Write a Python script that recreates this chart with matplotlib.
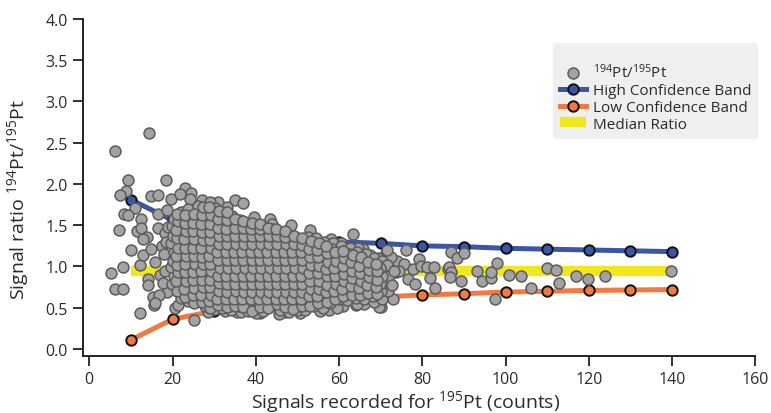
import numpy as np
import matplotlib.pyplot as plt

plt.rcParams['font.family'] = ['Open Sans', 'DejaVu Sans']
plt.rcParams['mathtext.default'] = 'regular'

# confidence bands and median ratio vs. counts
band_x = [10, 20, 30, 40, 50, 60, 70, 80, 90, 100, 110, 120, 130, 140]
high_band = [1.81, 1.56, 1.45, 1.38, 1.34, 1.30, 1.28, 1.25, 1.24, 1.22, 1.21, 1.20, 1.19, 1.18]
low_band = [0.11, 0.36, 0.46, 0.53, 0.58, 0.61, 0.63, 0.655, 0.67, 0.69, 0.70, 0.71, 0.715, 0.72]
median_x = [10, 140]
median_ratio = [0.95, 0.95]

# isolated measurements (outside the dense cloud)
sparse_x = [14.4, 6.2, 9.3, 18.5, 8.8, 7.3, 14.8, 16.4, 19.6, 23.0, 24.5, 21.8,
            10.9, 8.4, 9.3, 16.5, 18.6, 12.4, 7.2, 11.4, 12.5, 13.8, 16.6, 10.0,
            8.0, 5.3, 12.1, 12.9, 15.8, 6.1, 8.0, 14.1, 14.1, 15.4, 15.6, 18.6,
            12.2, 20.6, 21.4, 25.2, 16.8, 15.8, 14.8, 13.0, 17.5, 18.2, 17.0,
            35.0, 37.0, 43.4, 27.0, 31.0, 24.2, 33.0, 39.5, 48.5, 32.5, 58.0,
            28.5, 35.5, 40.5, 47.0, 57.5, 61.0, 66.0, 70.0, 29.0, 44.0, 53.0,
            63.4, 65.7, 71.2, 69.4, 73.8, 76.0, 75.6, 73.7, 79.2, 77.8, 79.8,
            81.2, 82.9, 81.8, 76.6, 78.2, 83.0, 86.2, 70.6, 69.4, 73.0, 69.7,
            71.4, 69.0, 70.8, 65.8, 64.1, 72.4, 74.5, 67.5, 64.5, 71.5, 60.5,
            87.0, 88.4, 90.0, 86.5, 86.9, 86.6, 89.2, 93.2, 94.4, 96.5, 96.6,
            98.0, 97.4, 100.9, 103.8, 106.2, 110.0, 112.0, 112.8, 116.8, 119.7,
            123.8, 139.8]
sparse_y = [2.62, 2.40, 2.05, 2.05, 1.92, 1.87, 1.85, 1.87, 1.82, 1.95, 1.89, 1.88,
            1.71, 1.64, 1.62, 1.64, 1.69, 1.57, 1.44, 1.43, 1.47, 1.36, 1.47, 1.20,
            0.99, 0.92, 1.02, 1.14, 1.05, 0.73, 0.73, 0.85, 0.78, 0.63, 0.53, 0.69,
            0.44, 0.50, 0.53, 0.355, 0.65, 0.56, 1.21, 1.33, 1.25, 1.40, 0.90,
            1.81, 1.77, 1.58, 1.80, 1.78, 1.82, 1.72, 1.60, 1.50, 1.62, 1.33,
            0.45, 0.45, 0.45, 0.45, 0.47, 0.52, 0.55, 0.51, 1.78, 1.52, 1.44,
            1.39, 1.21, 1.16, 1.10, 1.07, 1.20, 1.03, 0.93, 1.09, 0.97, 1.00,
            0.99, 0.99, 0.86, 0.85, 0.79, 0.74, 0.97, 1.01, 0.67, 0.61, 0.51,
            0.83, 0.85, 0.91, 0.93, 0.53, 1.12, 0.95, 1.14, 1.22, 1.20, 1.28,
            1.18, 1.10, 1.16, 0.99, 0.93, 0.87, 0.82, 0.94, 0.82, 0.86, 0.93,
            1.04, 0.61, 0.90, 0.89, 0.74, 0.98, 0.96, 0.80, 0.88, 0.85,
            0.88, 0.94]

# ragged edge of the dense cloud
edge_x = [52.5, 54.5, 56.4, 58.6, 60.4, 62.6, 64.4, 66.5, 68.4, 70.3,
          64.2, 68.3, 70.4, 59.5, 55.5, 50.5, 45.5, 41.0, 36.5, 32.5,
          71.8, 72.0, 71.5, 72.8, 73.2, 18.2, 18.0, 18.5, 17.8, 18.8]
edge_y = [1.36, 1.34, 1.30, 1.29, 1.25, 1.22, 1.18, 1.15, 1.10, 1.07,
          0.55, 0.57, 0.61, 0.50, 0.46, 0.44, 0.43, 0.44, 0.45, 0.46,
          0.70, 0.88, 1.02, 0.78, 0.95, 0.95, 1.15, 1.30, 0.80, 1.48]

# dense cloud of measurements, read column by column (even columns)
core_x = [19.8, 20.3, 19.6, 20.1, 20.4, 19.7, 20.2, 19.9, 20.3,
          22.1, 21.7, 22.3, 21.9, 22.2, 21.6, 22.4, 22.0, 21.8, 22.3, 22.1,
          23.8, 24.2, 24.0, 23.7, 24.3, 24.1, 23.9, 24.4, 23.8, 24.2, 24.0, 23.7,
          26.1, 25.8, 26.3, 26.0, 25.7, 26.2, 25.9, 26.4, 26.0, 25.8, 26.3, 26.1,
          27.9, 28.2, 27.7, 28.3, 28.0, 27.8, 28.4, 28.1, 27.9, 28.2, 27.7, 28.0, 28.3,
          30.2, 29.8, 30.1, 29.7, 30.3, 30.0, 29.9, 30.4, 29.8, 30.2, 30.0, 29.7, 30.1, 30.2,
          31.8, 32.2, 31.9, 32.3, 32.0, 31.7, 32.1, 31.9, 32.3, 32.0, 31.8, 32.2, 31.9,
          34.1, 33.8, 34.2, 34.0, 33.7, 34.3, 33.9, 34.1, 33.8, 34.2, 34.0, 33.9, 34.2,
          35.9, 36.2, 35.8, 36.1, 36.3, 35.7, 36.0, 36.2, 35.9, 36.1, 35.8, 36.3,
          38.1, 37.8, 38.3, 38.0, 37.7, 38.2, 37.9, 38.1, 37.8, 38.3, 38.0, 37.9,
          40.0, 39.7, 40.2, 39.9, 40.3, 40.1, 39.8, 40.2, 39.9, 40.1, 39.7,
          41.8, 42.2, 41.9, 42.1, 41.7, 42.3, 42.0, 41.8, 42.2, 42.0, 41.9,
          44.1, 43.8, 44.2, 43.9, 44.3, 44.0, 43.7, 44.1, 43.9, 44.2, 44.0,
          45.9, 46.2, 45.8, 46.1, 45.7, 46.3, 46.0, 45.9, 46.2, 46.0, 45.8,
          48.0, 47.8, 48.3, 47.9, 48.2, 48.1, 47.7, 48.0, 48.2, 47.9,
          50.2, 49.8, 50.1, 49.9, 50.3, 50.0, 49.7, 50.2, 49.9, 50.1,
          51.8, 52.1, 51.9, 52.3, 52.0, 51.7, 52.2, 51.9, 52.1,
          54.0, 53.8, 54.2, 53.9, 54.1, 53.7, 54.3, 54.0, 53.8,
          56.1, 55.8, 56.2, 56.0, 55.9, 56.3, 55.7, 56.1,
          57.9, 58.2, 57.8, 58.1, 58.3, 57.9, 58.0, 58.2,
          60.1, 59.8, 60.2, 59.9, 60.1, 59.7, 60.3,
          61.9, 62.2, 61.8, 62.1, 62.0, 61.8, 62.3,
          64.0, 63.8, 64.2, 63.9, 64.1, 63.7,
          65.9, 66.2, 65.8, 66.1, 66.0, 66.3,
          68.1, 67.8, 68.2, 67.9, 68.0,
          70.0, 69.8, 70.2, 69.9]
core_y = [0.79, 0.88, 0.99, 1.07, 1.18, 1.29, 1.37, 1.49, 1.58,
          0.62, 0.73, 0.83, 0.94, 1.03, 1.12, 1.24, 1.33, 1.43, 1.54, 1.66,
          0.58, 0.67, 0.78, 0.88, 0.97, 1.08, 1.18, 1.27, 1.38, 1.48, 1.58, 1.70,
          0.62, 0.72, 0.83, 0.92, 1.03, 1.13, 1.22, 1.33, 1.42, 1.53, 1.62, 1.73,
          0.52, 0.61, 0.70, 0.79, 0.89, 0.98, 1.08, 1.17, 1.27, 1.37, 1.47, 1.57, 1.67,
          0.49, 0.56, 0.65, 0.75, 0.84, 0.93, 1.03, 1.12, 1.22, 1.32, 1.42, 1.52, 1.62, 1.71,
          0.50, 0.60, 0.70, 0.79, 0.89, 0.98, 1.08, 1.17, 1.27, 1.37, 1.46, 1.56, 1.66,
          0.47, 0.55, 0.65, 0.74, 0.84, 0.93, 1.03, 1.12, 1.22, 1.32, 1.42, 1.51, 1.61,
          0.52, 0.59, 0.69, 0.79, 0.88, 0.98, 1.08, 1.17, 1.27, 1.37, 1.46, 1.56,
          0.46, 0.55, 0.64, 0.74, 0.84, 0.93, 1.03, 1.12, 1.22, 1.32, 1.42, 1.51,
          0.44, 0.59, 0.69, 0.79, 0.88, 0.98, 1.07, 1.17, 1.27, 1.37, 1.47,
          0.46, 0.55, 0.64, 0.74, 0.84, 0.93, 1.03, 1.12, 1.22, 1.32, 1.42,
          0.53, 0.59, 0.69, 0.79, 0.88, 0.98, 1.08, 1.17, 1.27, 1.36, 1.45,
          0.47, 0.55, 0.64, 0.74, 0.84, 0.93, 1.03, 1.12, 1.22, 1.32, 1.41,
          0.45, 0.59, 0.69, 0.79, 0.88, 0.98, 1.08, 1.17, 1.27, 1.36,
          0.47, 0.55, 0.64, 0.74, 0.84, 0.93, 1.03, 1.12, 1.22, 1.31,
          0.47, 0.59, 0.69, 0.79, 0.88, 0.98, 1.08, 1.17, 1.27,
          0.52, 0.60, 0.68, 0.77, 0.87, 0.96, 1.06, 1.15, 1.25,
          0.50, 0.64, 0.73, 0.82, 0.92, 1.01, 1.11, 1.21,
          0.56, 0.65, 0.74, 0.84, 0.93, 1.02, 1.12, 1.21,
          0.60, 0.69, 0.78, 0.88, 0.97, 1.07, 1.16,
          0.59, 0.67, 0.76, 0.86, 0.95, 1.05, 1.15,
          0.62, 0.72, 0.81, 0.91, 1.00, 1.10,
          0.60, 0.68, 0.77, 0.87, 0.96, 1.06,
          0.64, 0.73, 0.82, 0.92, 1.01,
          0.70, 0.79, 0.89, 0.98]

# dense cloud, odd columns
core2_x = [21.1, 20.8, 21.3, 21.0, 20.9, 21.2, 21.1, 20.8, 21.3, 21.0,
           23.0, 22.8, 23.2, 23.1, 22.9, 23.3, 23.0, 22.8, 23.2, 23.1, 22.9,
           25.1, 24.8, 25.2, 25.0, 24.9, 25.3, 25.1, 24.8, 25.2, 25.0, 24.9, 25.1,
           27.0, 26.8, 27.2, 27.1, 26.9, 27.3, 27.0, 26.8, 27.2, 27.1, 26.9, 27.0, 27.2,
           29.0, 28.8, 29.2, 29.1, 28.9, 29.3, 29.0, 28.8, 29.2, 29.1, 28.9, 29.0, 29.2, 28.8,
           31.0, 30.8, 31.2, 31.1, 30.9, 31.3, 31.0, 30.8, 31.2, 31.1, 30.9, 31.0, 31.2,
           33.0, 32.8, 33.2, 33.1, 32.9, 33.3, 33.0, 32.8, 33.2, 33.1, 32.9, 33.0, 33.2,
           35.0, 34.8, 35.2, 35.1, 34.9, 35.3, 35.0, 34.8, 35.2, 35.1, 34.9, 35.0,
           37.0, 36.8, 37.2, 37.1, 36.9, 37.3, 37.0, 36.8, 37.2, 37.1, 36.9, 37.0,
           39.0, 38.8, 39.2, 39.1, 38.9, 39.3, 39.0, 38.8, 39.2, 39.1, 38.9, 39.0,
           41.0, 40.8, 41.2, 41.1, 40.9, 41.3, 41.0, 40.8, 41.2, 41.1, 40.9, 41.0,
           43.0, 42.8, 43.2, 43.1, 42.9, 43.3, 43.0, 42.8, 43.2, 43.1, 42.9,
           45.0, 44.8, 45.2, 45.1, 44.9, 45.3, 45.0, 44.8, 45.2, 45.1, 44.9,
           47.0, 46.8, 47.2, 47.1, 46.9, 47.3, 47.0, 46.8, 47.2, 47.1, 46.9,
           49.0, 48.8, 49.2, 49.1, 48.9, 49.3, 49.0, 48.8, 49.2, 49.1,
           51.0, 50.8, 51.2, 51.1, 50.9, 51.3, 51.0, 50.8, 51.2, 51.1,
           53.0, 52.8, 53.2, 53.1, 52.9, 53.3, 53.0, 52.8, 53.2,
           55.0, 54.8, 55.2, 55.1, 54.9, 55.3, 55.0, 54.8, 55.2,
           57.0, 56.8, 57.2, 57.1, 56.9, 57.3, 57.0, 56.8,
           59.0, 58.8, 59.2, 59.1, 58.9, 59.3, 59.0,
           61.0, 60.8, 61.2, 61.1, 60.9, 61.3, 61.0,
           63.0, 62.8, 63.2, 63.1, 62.9, 63.3,
           65.0, 64.8, 65.2, 65.1, 64.9, 65.3,
           67.0, 66.8, 67.2, 67.1, 66.9,
           69.0, 68.8, 69.2, 69.1, 68.9]
core2_y = [0.70, 0.82, 0.93, 1.02, 1.13, 1.23, 1.34, 1.44, 1.55, 1.64,
           0.63, 0.73, 0.83, 0.93, 1.03, 1.13, 1.23, 1.33, 1.43, 1.53, 1.63,
           0.56, 0.65, 0.74, 0.84, 0.93, 1.03, 1.13, 1.22, 1.33, 1.43, 1.53, 1.64,
           0.57, 0.66, 0.75, 0.84, 0.94, 1.03, 1.12, 1.22, 1.32, 1.42, 1.52, 1.62, 1.72,
           0.50, 0.58, 0.66, 0.75, 0.84, 0.94, 1.03, 1.13, 1.22, 1.32, 1.42, 1.52, 1.62, 1.72,
           0.53, 0.61, 0.70, 0.80, 0.89, 0.98, 1.08, 1.17, 1.27, 1.37, 1.47, 1.57, 1.67,
           0.51, 0.60, 0.69, 0.79, 0.89, 0.98, 1.08, 1.17, 1.27, 1.37, 1.46, 1.56, 1.66,
           0.52, 0.60, 0.70, 0.79, 0.89, 0.98, 1.08, 1.17, 1.27, 1.37, 1.47, 1.57,
           0.51, 0.60, 0.69, 0.79, 0.88, 0.98, 1.08, 1.17, 1.27, 1.37, 1.47, 1.55,
           0.46, 0.60, 0.69, 0.79, 0.88, 0.98, 1.08, 1.17, 1.27, 1.37, 1.46, 1.53,
           0.51, 0.60, 0.69, 0.79, 0.88, 0.98, 1.08, 1.17, 1.27, 1.37, 1.45, 1.51,
           0.50, 0.60, 0.69, 0.79, 0.88, 0.98, 1.08, 1.17, 1.27, 1.37, 1.47,
           0.55, 0.60, 0.69, 0.79, 0.88, 0.98, 1.08, 1.17, 1.27, 1.37, 1.45,
           0.51, 0.60, 0.69, 0.79, 0.88, 0.98, 1.08, 1.17, 1.27, 1.36, 1.43,
           0.48, 0.60, 0.69, 0.79, 0.88, 0.98, 1.08, 1.17, 1.27, 1.37,
           0.52, 0.60, 0.69, 0.79, 0.88, 0.98, 1.08, 1.17, 1.26, 1.35,
           0.52, 0.64, 0.73, 0.83, 0.92, 1.02, 1.11, 1.21, 1.31,
           0.56, 0.64, 0.73, 0.82, 0.92, 1.01, 1.11, 1.20, 1.29,
           0.57, 0.69, 0.78, 0.88, 0.97, 1.06, 1.16, 1.25,
           0.61, 0.70, 0.79, 0.88, 0.98, 1.07, 1.17,
           0.64, 0.73, 0.82, 0.91, 1.01, 1.10, 1.19,
           0.66, 0.76, 0.86, 0.95, 1.05, 1.14,
           0.66, 0.74, 0.83, 0.92, 1.01, 1.11,
           0.68, 0.78, 0.87, 0.96, 1.06,
           0.67, 0.75, 0.84, 0.94, 1.03]

ratio_x = np.array(sparse_x + edge_x + core_x + core2_x)
ratio_y = np.array(sparse_y + edge_y + core_y + core2_y)

text_col = '#2b2b2b'

fig = plt.figure(figsize=(7.71, 4.14), dpi=100)
ax = fig.add_axes([0.1077, 0.1377, 0.872, 0.814])

ax.plot(median_x, median_ratio, color='#f2e61e', lw=7.5, solid_capstyle='butt',
        label='Median Ratio', zorder=1)
ax.plot(band_x, high_band, color='#3a56a5', lw=3.6, marker='o', ms=7.5,
        mfc='#3a56a5', mec='#111111', mew=1.4, label='High Confidence Band', zorder=2)
ax.plot(band_x, low_band, color='#f07a42', lw=3.6, marker='o', ms=7.5,
        mfc='#f07a42', mec='#111111', mew=1.4, label='Low Confidence Band', zorder=2)
ax.scatter(ratio_x, ratio_y, s=62, color='#a3a3a3', edgecolors='#5c5c5c',
           linewidths=1.1, label=r'$^{194}$Pt/$^{195}$Pt', zorder=3)

ax.set_xlim(-1.5, 160)
ax.set_ylim(-0.085, 4.0)
ax.set_xticks(np.arange(0, 161, 20))
ax.set_yticks(np.arange(0, 4.01, 0.5))
ax.set_yticklabels([f'{v:.1f}' for v in np.arange(0, 4.01, 0.5)])
for s in ['top', 'right']:
    ax.spines[s].set_visible(False)
for s in ['left', 'bottom']:
    ax.spines[s].set_linewidth(1.4)
    ax.spines[s].set_color('#222222')
ax.tick_params(direction='out', length=7, width=1.3, color='#222222',
               labelsize=11.5, labelcolor=text_col, pad=4)

ax.set_xlabel(r'Signals recorded for $^{195}$Pt (counts)', fontsize=14, color=text_col)
ax.set_ylabel(r'Signal ratio $^{194}$Pt/$^{195}$Pt', fontsize=14, color=text_col)
ax.xaxis.set_label_coords(0.480, -0.094)
ax.yaxis.set_label_coords(-0.078, 0.466)

h, l = ax.get_legend_handles_labels()
order = [3, 1, 2, 0]
leg = ax.legend([h[i] for i in order], [l[i] for i in order],
                loc='upper right', bbox_to_anchor=(0.983, 0.894),
                bbox_transform=fig.transFigure, fontsize=11, frameon=True,
                fancybox=True, handlelength=1.7, handletextpad=0.45,
                labelspacing=0.12, borderpad=0.45, borderaxespad=0,
                title=' ', title_fontsize=7)
leg.get_frame().set_facecolor('#efefef')
leg.get_frame().set_edgecolor('none')
leg.get_frame().set_alpha(1)
for t in leg.get_texts():
    t.set_color(text_col)

fig.savefig('out.png', dpi=100)
